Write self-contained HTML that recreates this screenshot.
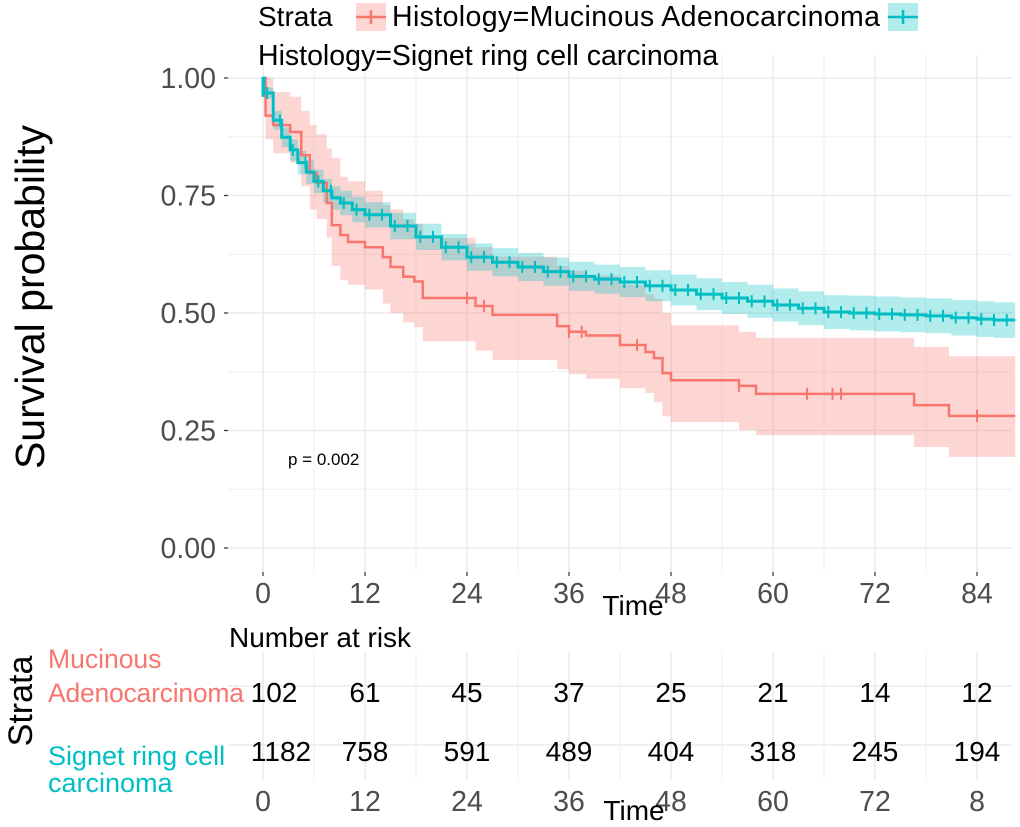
<!DOCTYPE html>
<html><head><meta charset="utf-8"><style>
html,body{margin:0;padding:0;background:#fff;}
svg{display:block;font-family:"Liberation Sans",Arial,sans-serif;}
</style></head><body>
<svg id="chart" width="1020" height="827" viewBox="0 0 1020 827">
<g id="grid"></g>
<g id="bands"></g>
<g id="lines"></g>
<g id="axes"></g>
<g id="legend">
  <text x="258" y="26" font-size="28" fill="#000">Strata</text>
  <g>
    <rect x="356" y="3" width="30" height="28" fill="#F8766D" fill-opacity="0.3"/>
    <line x1="356" y1="17" x2="386" y2="17" stroke="#F8766D" stroke-width="2.5"/>
    <line x1="371" y1="10" x2="371" y2="24" stroke="#F8766D" stroke-width="2.5"/>
  </g>
  <text x="392" y="26" font-size="28.5" textLength="488">Histology=Mucinous Adenocarcinoma</text>
  <g>
    <rect x="888" y="3" width="30" height="28" fill="#00BFC4" fill-opacity="0.3"/>
    <line x1="888" y1="17" x2="918" y2="17" stroke="#00BFC4" stroke-width="2.5"/>
    <line x1="903" y1="10" x2="903" y2="24" stroke="#00BFC4" stroke-width="2.5"/>
  </g>
  <text x="258" y="65" font-size="28.5">Histology=Signet ring cell carcinoma</text>
</g>
<text x="0" y="0" font-size="41" transform="translate(44,297) rotate(-90)" text-anchor="middle">Survival probability</text>
<text x="633" y="615" font-size="28" text-anchor="middle">Time</text>
<text x="288" y="465" font-size="17">p = 0.002</text>
<text x="229" y="647" font-size="28">Number at risk</text>
<text x="0" y="0" font-size="34" transform="translate(32,701) rotate(-90)" text-anchor="middle">Strata</text>
<text x="48" y="668" font-size="26.5" fill="#F8766D"><tspan x="48">Mucinous</tspan><tspan x="48" dy="34" textLength="196">Adenocarcinoma</tspan></text>
<text x="48" y="765" font-size="27" fill="#00BFC4"><tspan x="48">Signet ring cell</tspan><tspan x="48" dy="27">carcinoma</tspan></text>
<g id="risk"></g>
<text x="634" y="820" font-size="28" text-anchor="middle">Time</text>
</svg>
<script>
const xTicks = [0,12,24,36,48,60,72,84];
const yTicks = [0,0.25,0.5,0.75,1];
const yTickLabels = ["0.00","0.25","0.50","0.75","1.00"];
const mucT = [0,0.3,1.2,3.2,4.5,5.5,6.3,7.5,8.1,9.1,10,12,14.1,15,16.5,17.8,18.8,25,27,34.6,36,38,42,45,46,47,48,56,58,76.6,80.7];
const mucS = [1,0.92,0.90,0.885,0.836,0.798,0.777,0.734,0.687,0.666,0.651,0.64,0.619,0.598,0.577,0.567,0.532,0.515,0.496,0.472,0.46,0.452,0.432,0.417,0.404,0.372,0.357,0.345,0.328,0.304,0.281];
const mucU = [1,1,0.97,0.96,0.93,0.90,0.88,0.85,0.83,0.79,0.78,0.76,0.73,0.72,0.70,0.69,0.66,0.64,0.62,0.60,0.59,0.58,0.56,0.54,0.53,0.50,0.474,0.46,0.447,0.428,0.408];
const mucL = [1,0.87,0.84,0.82,0.77,0.72,0.70,0.66,0.60,0.57,0.56,0.55,0.52,0.50,0.48,0.47,0.44,0.42,0.40,0.38,0.37,0.36,0.34,0.33,0.31,0.28,0.268,0.251,0.24,0.215,0.194];
const mucCens = [24,26,36,37.5,44,56,64,67,68,84];
const sigT = [0,0.1,1.2,2.2,3.2,4.1,5.1,6,7.1,8.1,9.1,10.5,12,15,18,21,24,27,30,33,36,39,42,45,48,51,54,57,60,63,66,69,72,75,78,81,84,86];
const sigS = [1,0.968,0.91,0.874,0.847,0.82,0.80,0.78,0.76,0.745,0.734,0.72,0.709,0.685,0.662,0.64,0.619,0.608,0.598,0.588,0.578,0.572,0.566,0.558,0.549,0.54,0.532,0.525,0.517,0.51,0.502,0.50,0.498,0.496,0.494,0.49,0.487,0.485];
const sigU = [1,0.98,0.93,0.895,0.87,0.845,0.825,0.805,0.785,0.77,0.76,0.747,0.736,0.713,0.69,0.668,0.648,0.638,0.628,0.618,0.609,0.603,0.598,0.591,0.582,0.574,0.566,0.56,0.552,0.546,0.538,0.537,0.535,0.533,0.531,0.528,0.525,0.523];
const sigL = [1,0.956,0.89,0.853,0.824,0.795,0.775,0.755,0.735,0.72,0.708,0.693,0.682,0.657,0.634,0.612,0.59,0.578,0.568,0.558,0.547,0.541,0.534,0.525,0.516,0.506,0.498,0.49,0.482,0.474,0.466,0.463,0.461,0.459,0.457,0.452,0.449,0.447];
const sigCens = [0.5,2,3.5,5,6.5,8,9.5,11,12.5,14,15.5,17,18.5,20,21.5,23,24.5,26,27.5,29,30.5,32,33.5,35,36.5,38,39.5,41,42.5,44,45.5,47,48.5,50,51.5,53,54.5,56,57.5,59,60.5,62,63.5,65,66.5,68,69.5,71,72.5,74,75.5,77,78.5,80,81.5,83,84.5,86,87.5];
const riskMuc = [102,61,45,37,25,21,14,12];
const riskSig = [1182,758,591,489,404,318,245,194];
const riskTickLabels = ["0","12","24","36","48","60","72","8"];

const X0=263, PXM=8.5, Y0=548, PYU=470, XMAX=88.5;
const sx = t => X0 + t*PXM;
const sy = v => Y0 - v*PYU;
const NS="http://www.w3.org/2000/svg";
function mk(tag, parent, attrs){const e=document.createElementNS(NS,tag);for(const k in attrs)e.setAttribute(k,attrs[k]);parent.appendChild(e);return e;}
const grid=document.getElementById('grid'), bands=document.getElementById('bands'), lines=document.getElementById('lines'), axes=document.getElementById('axes'), risk=document.getElementById('risk');

for(let t=0;t<=XMAX;t+=6){
  const major = t%12===0;
  const g=mk('line',grid,{x1:sx(t),x2:sx(t),y1:55,y2:572,stroke:'#ebebeb','stroke-width':major?1.6:0.8});
  
  
  const g2=mk('line',grid,{x1:sx(t),x2:sx(t),y1:652,y2:780,stroke:'#ebebeb','stroke-width':major?1.6:0.8});
  
  
}
for(let v=0;v<=1.0001;v+=0.125){
  const major = Math.round(v*8)%2===0;
  const g=mk('line',grid,{x1:228,x2:1012,y1:sy(v),y2:sy(v),stroke:'#ebebeb','stroke-width':major?1.6:0.8});
  
  
}
[686,745].forEach(y=>{const g=mk('line',grid,{x1:228,x2:1012,y1:y,y2:y,stroke:'#ebebeb','stroke-width':1.6});
  
  });

function stepPath(T,S){let d=`M${sx(T[0])},${sy(S[0])}`;for(let i=1;i<T.length;i++){d+=`H${sx(T[i])}V${sy(S[i])}`;}d+=`H${sx(XMAX)}`;return d;}
function bandPath(T,U,L){let up=[],lo=[];for(let i=0;i<T.length;i++){const x1=sx(T[i]),x2=sx(i+1<T.length?T[i+1]:XMAX);up.push(`${x1},${sy(U[i])}`,`${x2},${sy(U[i])}`);lo.push(`${x1},${sy(L[i])}`,`${x2},${sy(L[i])}`);}return 'M'+up.join('L')+'L'+lo.reverse().join('L')+'Z';}
function valAt(T,S,t){let v=S[0];for(let i=0;i<T.length;i++){if(T[i]<=t)v=S[i];}return v;}

const b1=mk('path',bands,{d:bandPath(mucT,mucU,mucL),fill:'#F8766D','fill-opacity':0.3});


const b2=mk('path',bands,{d:bandPath(sigT,sigU,sigL),fill:'#00BFC4','fill-opacity':0.3});



const l1=mk('path',lines,{d:stepPath(mucT,mucS),fill:'none',stroke:'#F8766D','stroke-width':2.5});


const l2=mk('path',lines,{d:stepPath(sigT,sigS),fill:'none',stroke:'#00BFC4','stroke-width':3});


mucCens.forEach(t=>{const y=sy(valAt(mucT,mucS,t));const c=mk('line',lines,{x1:sx(t),x2:sx(t),y1:y-6,y2:y+6,stroke:'#F8766D','stroke-width':2});
  
  });
sigCens.forEach(t=>{const y=sy(valAt(sigT,sigS,t));const c=mk('line',lines,{x1:sx(t),x2:sx(t),y1:y-6,y2:y+6,stroke:'#00BFC4','stroke-width':2});
  
  });
const v0=mk('line',lines,{x1:sx(0),x2:sx(0),y1:sy(1)-1,y2:sy(0.96),stroke:'#00BFC4','stroke-width':3});



yTicks.forEach((v,i)=>{
  const tk=mk('line',axes,{x1:224,x2:228,y1:sy(v),y2:sy(v),stroke:'#333','stroke-width':1.2});
  
  
  const tx=mk('text',axes,{x:216,y:sy(v)+10,'font-size':28.5,'text-anchor':'end',fill:'#4d4d4d'});
  tx.textContent=yTickLabels[i];
  
  
});
xTicks.forEach((t,i)=>{
  const tk=mk('line',axes,{x1:sx(t),x2:sx(t),y1:572,y2:576,stroke:'#333','stroke-width':1.2});
  
  
  const tx=mk('text',axes,{x:sx(t),y:603,'font-size':28.5,'text-anchor':'middle',fill:'#4d4d4d'});
  tx.textContent=String(t);
  
  
  const tx2=mk('text',risk,{x:sx(t),y:811,'font-size':28.5,'text-anchor':'middle',fill:'#4d4d4d'});
  tx2.textContent=riskTickLabels[i];
  
  
  const r1=mk('text',risk,{x:sx(t)+(i===0?11:0),y:702,'font-size':28,'text-anchor':'middle',fill:'#000'});
  r1.textContent=String(riskMuc[i]);
  
  
  const r2=mk('text',risk,{x:sx(t)+(i===0?18:0),y:761,'font-size':28,'text-anchor':'middle',fill:'#000'});
  r2.textContent=String(riskSig[i]);
  
  
});
</script>
</body></html>
